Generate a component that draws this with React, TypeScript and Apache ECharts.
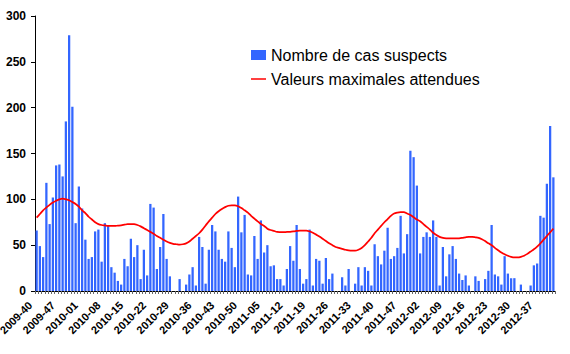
import React, { useEffect, useRef } from "react";
import * as echarts from "echarts";

// Weeks from 2009-40 onwards (ISO weeks; 2009 has 53 weeks)
const startYear = 2009;
const startWeek = 40;
const weeksInYear: Record<number, number> = { 2009: 53, 2010: 52, 2011: 52, 2012: 52 };

const tickLabels = [
  "2009-40", "2009-47", "2010-01", "2010-08", "2010-15", "2010-22", "2010-29", "2010-36",
  "2010-43", "2010-50", "2011-05", "2011-12", "2011-19", "2011-26", "2011-33", "2011-40",
  "2011-47", "2012-02", "2012-09", "2012-16", "2012-23", "2012-30", "2012-37",
];

const weeklyCases = [
  66, 49, 37, 118, 73, 102, 137, 138, 125, 185,
  279, 201, 74, 114, 90, 56, 35, 37, 65, 67,
  32, 74, 72, 26, 20, 11, 7, 35, 27, 57,
  37, 50, 13, 45, 17, 95, 91, 24, 48, 84,
  35, 16, 0, 0, 13, 0, 7, 18, 26, 6,
  59, 48, 8, 45, 72, 65, 45, 35, 32, 65,
  47, 26, 103, 64, 83, 18, 17, 60, 35, 77,
  42, 50, 27, 28, 13, 13, 6, 24, 49, 33,
  72, 24, 8, 13, 67, 6, 35, 33, 8, 36,
  13, 19, 0, 0, 15, 6, 24, 0, 8, 26,
  6, 26, 22, 6, 51, 38, 29, 44, 69, 35,
  38, 47, 82, 41, 62, 153, 146, 115, 41, 59,
  64, 59, 77, 59, 6, 48, 16, 40, 49, 35,
  19, 12, 17, 6, 0, 16, 11, 0, 13, 22,
  72, 18, 16, 7, 38, 19, 14, 14, 0, 7,
  0, 0, 6, 28, 30, 82, 80, 117, 180, 124,
];

const expectedMax = [
  80, 84, 88, 91, 94, 96.5, 98.5, 100, 100.7, 100,
  99, 97, 95, 92, 88, 85, 81, 78, 75, 73,
  72, 71.5, 71, 71, 71, 71.3, 71.6, 72.3, 73, 73,
  73, 72, 70.5, 68.5, 66.5, 64.5, 62.5, 60, 58, 56,
  54, 52.5, 51.5, 51, 50.5, 51, 52, 54, 57, 60,
  63, 67, 71.5, 76, 80, 84, 87, 89.5, 91.5, 93,
  93.5, 93.5, 92.5, 90.5, 88, 85.5, 82, 79, 76, 73,
  71, 68, 66.5, 65.5, 64.5, 64.3, 64.2, 64.4, 64.6, 65,
  65.5, 66, 66, 66, 65, 63.5, 61.5, 59.5, 57, 54.5,
  52, 50, 48, 47, 46, 45, 44.3, 44, 44, 45,
  47, 50, 54, 58, 63, 67, 71, 75, 78.5, 82,
  84.5, 85.5, 86, 86, 84.5, 83, 80.5, 78, 76, 73,
  70, 67, 63.5, 61, 59, 58, 57.5, 57.3, 57.3, 57.3,
  57.5, 58, 58.6, 59, 59, 58.6, 58, 56.5, 54.5, 52,
  50, 47, 44.5, 42, 40, 38.5, 37.3, 36.7, 36.7, 37.3,
  38.5, 40.5, 43, 45.5, 48.5, 52, 56, 60, 64, 68,
];

function buildWeeks(count: number): string[] {
  const out: string[] = [];
  let y = startYear;
  let w = startWeek;
  for (let i = 0; i < count; i++) {
    out.push(`${y}-${String(w).padStart(2, "0")}`);
    w++;
    if (w > (weeksInYear[y] || 52)) {
      w = 1;
      y++;
    }
  }
  return out;
}

const categories = buildWeeks(weeklyCases.length);

const FONT = 'Arial, "Liberation Sans", sans-serif';

export default function App() {
  const ref = useRef<HTMLDivElement>(null);
  useEffect(() => {
    if (!ref.current) return;
    const chart = echarts.init(ref.current, null, { renderer: "svg" });
    chart.setOption({
      animation: false,
      backgroundColor: "#ffffff",
      textStyle: { fontFamily: FONT },
      grid: {
        left: 35,
        right: 15,
        top: 16,
        bottom: 63,
        containLabel: false,
        outerBoundsMode: "none",
      },
      legend: {
        orient: "vertical",
        left: 251,
        top: 46,
        padding: 0,
        itemWidth: 15,
        itemHeight: 10,
        itemGap: 6,
        textStyle: { fontSize: 16, color: "#000", fontFamily: FONT, lineHeight: 18 },
        data: [
          { name: "Nombre de cas suspects", icon: "rect" },
          { name: "Valeurs maximales attendues", icon: "path://M0,0 L30,0 L30,3 L0,3 Z" },
        ],
      },
      xAxis: {
        type: "category",
        data: categories,
        boundaryGap: true,
        axisLine: { show: true, lineStyle: { color: "#000", width: 1 } },
        axisTick: { show: true, interval: 0, length: 3, lineStyle: { color: "#666" } },
        axisLabel: {
          interval: (_i: number, v: string) => tickLabels.includes(v),
          rotate: 45,
          margin: 6,
          padding: [0, 9, 0, 0],
          fontSize: 11,
          fontWeight: "bold",
          color: "#000",
          fontFamily: FONT,
        },
        splitLine: { show: false },
      },
      yAxis: {
        type: "value",
        min: 0,
        max: 300,
        interval: 50,
        axisLine: { show: true, lineStyle: { color: "#000", width: 1 } },
        axisTick: { show: true, length: 4, lineStyle: { color: "#000" } },
        axisLabel: {
          fontSize: 12,
          fontWeight: "bold",
          color: "#000",
          margin: 9,
          fontFamily: FONT,
        },
        splitLine: { show: false },
      },
      series: [
        {
          name: "Nombre de cas suspects",
          type: "bar",
          data: weeklyCases,
          barCategoryGap: "30%",
          itemStyle: { color: "#3366ff" },
        },
        {
          name: "Valeurs maximales attendues",
          type: "line",
          data: expectedMax,
          symbol: "none",
          smooth: 0.3,
          lineStyle: { color: "#ff0000", width: 1.75 },
          itemStyle: { color: "#ff0000" },
        },
      ],
    });
    return () => chart.dispose();
  }, []);
  return (
    <div
      ref={ref}
      style={{ position: "fixed", left: 0, top: 0, width: 570, height: 354 }}
    />
  );
}
